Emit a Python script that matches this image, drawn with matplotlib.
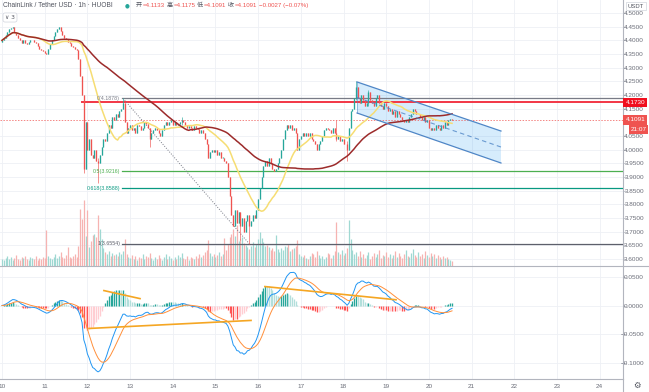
import numpy as np
import pandas as pd
import matplotlib
matplotlib.use('Agg')
import matplotlib.pyplot as plt

plt.rcParams['font.family'] = ['Liberation Sans', 'Noto Sans CJK SC', 'DejaVu Sans']

# hourly closes, LINK/USDT, starting 10th 00:00
closes = [
    4.40, 4.41, 4.42, 4.43, 4.44, 4.445, 4.45, 4.43, 4.42, 4.41,
    4.40, 4.39, 4.40, 4.39, 4.385, 4.395, 4.40, 4.40, 4.395, 4.39,
    4.38, 4.37, 4.365, 4.36, 4.355, 4.35, 4.37, 4.385, 4.40, 4.415,
    4.43, 4.44, 4.45, 4.435, 4.42, 4.41, 4.405, 4.395, 4.39, 4.38,
    4.375, 4.37, 4.365, 4.33, 4.27, 4.20, 3.93, 4.10, 4.00, 4.04,
    3.98, 3.97, 4.00, 3.96, 3.95, 3.98, 4.01, 4.04, 4.03, 4.06,
    4.09, 4.08, 4.12, 4.11, 4.13, 4.12, 4.14, 4.15, 4.17, 4.10,
    4.06, 4.08, 4.09, 4.07, 4.08, 4.06, 4.09, 4.085, 4.07, 4.08,
    4.10, 4.095, 4.08, 4.04, 4.06, 4.07, 4.08, 4.07, 4.06, 4.05,
    4.07, 4.09, 4.10, 4.09, 4.10, 4.11, 4.09, 4.10, 4.09, 4.095,
    4.10, 4.11, 4.10, 4.09, 4.08, 4.085, 4.08, 4.07, 4.085, 4.08,
    4.075, 4.06, 4.07, 4.06, 4.04, 4.02, 3.97, 3.99, 4.00, 3.99,
    4.00, 3.98, 3.99, 3.97, 3.97, 3.96, 3.95, 3.90, 3.83, 3.76,
    3.72, 3.78, 3.73, 3.77, 3.72, 3.75, 3.70, 3.74, 3.76, 3.72,
    3.74, 3.76, 3.75, 3.78, 3.82, 3.86, 3.90, 3.94, 3.96, 3.94,
    3.97, 3.95, 3.93, 3.92, 3.93, 3.95, 3.97, 4.00, 4.04, 4.07,
    4.09, 4.08, 4.09, 4.07, 4.08, 4.06, 4.00, 4.04, 4.05, 4.06,
    4.05, 4.06, 4.05, 4.06, 4.04, 4.03, 4.02, 4.00, 4.02, 4.03,
    4.05, 4.07, 4.08, 4.075, 4.07, 4.06, 4.08, 4.06, 4.04, 4.05,
    4.03, 4.04, 4.02, 4.02, 4.00, 4.08, 4.14, 4.15, 4.19, 4.23,
    4.19, 4.17, 4.20, 4.18, 4.16, 4.17, 4.21, 4.18, 4.17, 4.16,
    4.19, 4.20, 4.17, 4.16, 4.15, 4.17, 4.16, 4.14, 4.15, 4.13,
    4.14, 4.12, 4.14, 4.13, 4.12, 4.11, 4.10, 4.11, 4.10, 4.12,
    4.13, 4.15, 4.14, 4.13, 4.13, 4.12, 4.11, 4.12, 4.10, 4.11,
    4.08, 4.07, 4.08, 4.07, 4.09, 4.08, 4.07, 4.09, 4.08, 4.10,
    4.09, 4.11, 4.1133, 4.1091,
]
first_open = 4.395

volumes = [
    7, 6, 8, 10, 7, 9, 6, 8, 11, 7,
    6, 9, 8, 10, 7, 6, 9, 8, 7, 10,
    6, 8, 7, 9, 8, 36, 10, 8, 7, 9,
    12, 8, 10, 14, 9, 8, 11, 19, 9, 8,
    10, 12, 9, 20, 57, 47, 67, 30, 56, 19,
    25, 31, 32, 29, 51, 37, 27, 18, 14, 12,
    15, 10, 13, 11, 12, 10, 14, 12, 15, 27,
    12, 9, 8, 11, 7, 10, 6, 9, 8, 12,
    7, 10, 9, 13, 8, 6, 9, 7, 11, 8,
    6, 9, 12, 7, 10, 8, 6, 9, 7, 11,
    9, 13, 8, 7, 10, 6, 9, 8, 7, 10,
    8, 12, 9, 11, 14, 16, 26, 13, 10, 12,
    9, 11, 14, 10, 12, 28, 16, 22, 29, 32,
    37, 30, 41, 25, 27, 29, 23, 21, 19, 17,
    20, 24, 19, 22, 27, 34, 28, 24, 20, 21,
    19, 16, 18, 15, 31, 17, 14, 18, 16, 20,
    19, 22, 15, 17, 18, 20, 26, 12, 10, 9,
    11, 8, 7, 10, 13, 12, 9, 15, 11, 8,
    10, 7, 9, 13, 12, 8, 11, 15, 44, 14,
    12, 16, 11, 13, 18, 46, 27, 16, 12, 14,
    10, 15, 9, 12, 8, 11, 14, 7, 10, 13,
    9, 12, 16, 8, 11, 10, 14, 9, 12, 8,
    11, 15, 9, 13, 10, 8, 12, 16, 10, 9,
    13, 17, 11, 9, 14, 10, 12, 8, 15, 11,
    9, 13, 10, 12, 8, 11, 9, 7, 10, 8,
    9, 7, 6, 5,
]

# wicks that stand out on the chart: hour -> (high, low)
wicks = {46: (4.20, 3.915), 54: (3.97, 3.878), 68: (4.1878, 4.15),
         83: (4.08, 4.01), 101: (4.12, 4.09), 134: (3.76, 3.67),
         139: (3.76, 3.6554), 188: (4.11, 4.03), 194: (4.03, 3.96),
         199: (4.25, 4.18), 206: (4.22, 4.16)}

day_labels = ['10', '11', '12', '13', '14', '15', '16', '17', '18', '19',
              '20', '21', '22', '23', '24']
price_ticks = [4.50, 4.45, 4.40, 4.35, 4.30, 4.25, 4.20, 4.15, 4.05,
               4.00, 3.95, 3.90, 3.85, 3.80, 3.75, 3.70, 3.65, 3.60]
macd_ticks = [0.05, 0.0, -0.05, -0.10]

header_title = 'ChainLink / Tether USD \u00b7 1h \u00b7 HUOBI'
ohlc_keys = ['开', '高', '低', '收']
ohlc_vals = [4.1133, 4.1175, 4.1091, 4.1091]
change_text = '\u22120.0027 (\u22120.07%)'

hline_price = 4.1730
fib_levels = [('0', 4.1878, '#787b86'), ('0.5', 3.9216, '#4caf50'),
              ('0.618', 3.8588, '#089981'), ('1', 3.6554, '#5d606b')]
fib_hours = (68, 139)
channel_top = [(199.6, 4.2476), (280.5, 4.068)]
channel_bot = [(199.6, 4.134), (280.5, 3.951)]
macd_lines = [[(57.3, 0.026), (77.6, 0.012)],
              [(48.9, -0.040), (140.0, -0.026)],
              [(147.8, 0.033), (221.5, 0.010)]]

UP, DOWN = '#26a69a', '#ef5350'
GRID = '#eef0f5'
TXT = '#6a6d78'

closes = np.array(closes)
hours = np.arange(len(closes))
opens = np.r_[first_open, closes[:-1]]
highs = np.maximum(opens, closes)
lows = np.minimum(opens, closes)
for h, (hi, lo) in wicks.items():
    highs[h] = max(hi, highs[h])
    lows[h] = min(lo, lows[h])
up = closes >= opens

s = pd.Series(closes)
ma_fast = s.rolling(20, min_periods=1).mean()
ma_slow = s.rolling(60, min_periods=1).mean()
macd = s.ewm(span=12, adjust=False).mean() - s.ewm(span=26, adjust=False).mean()
signal = macd.ewm(span=9, adjust=False).mean()
hist = (macd - signal).values
prev = np.r_[0, hist[:-1]]
hcol = np.where(hist >= 0, np.where(hist > prev, '#26a69a', '#b2dfdb'),
                np.where(hist < prev, '#ff5252', '#ffcdd2'))

W, H = 649, 392
fig = plt.figure(figsize=(W / 100, H / 100), dpi=100, facecolor='white')
ax = fig.add_axes([0, 126 / H, 623 / W, 266 / H])
axm = fig.add_axes([0, 13 / H, 623 / W, 113 / H], sharex=ax)

xlim = (-1.12, 349.1)
day_x = [i * 24 for i in range(len(day_labels))]

for a in (ax, axm):
    a.set_facecolor('white')
    for sp in a.spines.values():
        sp.set_visible(False)
    a.spines['right'].set_visible(True)
    a.spines['right'].set_color('#b2b5be')
    a.spines['right'].set_linewidth(0.8)
    a.yaxis.tick_right()
    # labels right-aligned ~21px right of the axis line, like the screenshot
    a.tick_params(axis='y', length=2, width=0.5, color='#b2b5be', labelsize=4.6,
                  labelcolor=TXT, pad=13.1)
    for d in day_x:
        a.axvline(d, color=GRID, lw=0.6, zorder=0)

# price pane
ax.set_xlim(*xlim)
ax.set_ylim(3.574, 4.5476)
ax.set_yticks(price_ticks)
ax.set_yticklabels([f'{p:.4f}' for p in price_ticks], ha='right')
for p in price_ticks:
    ax.axhline(p, color=GRID, lw=0.6, zorder=0)

# volume on the bottom quarter of the price pane
vmax = max(volumes)
ax.vlines(hours, 0, np.array(volumes) / vmax * 0.25, transform=ax.get_xaxis_transform(),
          colors=np.where(up, '#9fd8d2', '#f6b3b1'), lw=0.9, zorder=1)

# candles
ccol = np.where(up, UP, DOWN)
ax.vlines(hours, lows, highs, colors=ccol, lw=0.45, zorder=4)
body_lo = np.minimum(opens, closes)
body_hi = np.maximum(np.maximum(opens, closes), body_lo + 0.002)
ax.vlines(hours, body_lo, body_hi, colors=ccol, lw=0.95, zorder=4)

ax.plot(hours, ma_fast, color='#f6dd73', lw=1.1, zorder=5)
ax.plot(hours, ma_slow, color='#9c2b2b', lw=1.1, zorder=5)

# horizontal line + current price line
ax.plot([45, xlim[1]], [hline_price, hline_price], color='#f23645', lw=1.4, zorder=3)
ax.axhline(closes[-1], color='#ef5350', lw=0.7, ls=(0, (1.5, 1.5)), alpha=0.7, zorder=3)

# fib retracement
for name, lvl, col in fib_levels:
    ax.plot([67.5, xlim[1]], [lvl, lvl], color=col, lw=0.9, zorder=3)
    ax.text(66.3, lvl, f'{name}({lvl:.4f})', color=col, fontsize=3.8,
            ha='right', va='center', zorder=6)
ax.plot(fib_hours, [fib_levels[0][1], fib_levels[-1][1]], color='#787b86',
        lw=0.7, ls=(0, (1, 1.6)), zorder=3)

# parallel channel
(x0, t0), (x1, t1) = channel_top
(_, b0), (_, b1) = channel_bot
ax.fill([x0, x1, x1, x0], [t0, t1, b1, b0], color='#2196f3', alpha=0.18, lw=0, zorder=2)
ax.plot([x0, x1], [t0, t1], color='#4f86c6', lw=0.9, zorder=6)
ax.plot([x0, x1], [b0, b1], color='#4f86c6', lw=0.9, zorder=6)
ax.plot([x0, x0], [t0, b0], color='#4f86c6', lw=0.6, alpha=0.6, zorder=6)
ax.plot([x0, x1], [(t0 + b0) / 2, (t1 + b1) / 2], color='#4f86c6', lw=0.8,
        ls=(0, (4, 3)), alpha=0.8, zorder=6)

# axis price labels
yt = ax.get_yaxis_transform()
ax.text(1.004, hline_price, f'{hline_price:.4f}', transform=yt, color='white', fontsize=4.6,
        ha='left', va='center', clip_on=False, zorder=10,
        bbox=dict(boxstyle='square,pad=0.35', fc='#f00f1e', ec='none'))
ax.text(1.004, closes[-1], f'{closes[-1]:.4f}', transform=yt, color='white', fontsize=4.6,
        ha='left', va='center', clip_on=False, zorder=10,
        bbox=dict(boxstyle='square,pad=0.35', fc='#ef5350', ec='none'))
ax.text(1.012, 4.074, '21:07', transform=yt, color='white', fontsize=4.6,
        ha='left', va='center', clip_on=False, zorder=10,
        bbox=dict(boxstyle='square,pad=0.3', fc='#ef5350', ec='none'))

# MACD pane
axm.set_ylim(-0.128, 0.0688)
axm.set_yticks(macd_ticks)
axm.set_yticklabels([f'{v:.4f}'.replace('-', '\u2212') for v in macd_ticks], ha='right')
for v in macd_ticks:
    axm.axhline(v, color=GRID, lw=0.6, zorder=0)
axm.vlines(hours, 0, hist, colors=hcol, lw=0.95, zorder=2)
axm.plot(hours, macd, color='#2196f3', lw=0.7, zorder=3)
axm.plot(hours, signal, color='#ff8f3a', lw=0.7, zorder=3)
for seg in macd_lines:
    axm.plot(*zip(*seg), color='#f5a623', lw=1.2, zorder=4)

axm.set_xticks(day_x)
axm.set_xticklabels(day_labels)
axm.tick_params(axis='x', length=0, labelsize=4.6, labelcolor=TXT, pad=3.5)
plt.setp(ax.get_xticklabels(), visible=False)
ax.tick_params(axis='x', length=0)
axm.spines['bottom'].set_visible(True)
axm.spines['bottom'].set_color('#b2b5be')
axm.spines['bottom'].set_linewidth(0.8)

# pane separator and framing
fig.add_artist(plt.Line2D([0, 1], [126 / H, 126 / H], color='#b2b5be', lw=0.8))
fig.add_artist(plt.Line2D([623 / W, 623 / W], [0, 13 / H], color='#b2b5be', lw=0.8))


# header
def fx(px):
    return px / W


def fy(py):
    return 1 - py / H


renderer = fig.canvas.get_renderer()

fig.text(fx(3), fy(5.5), header_title, fontsize=4.8, color='#50535e', va='center', ha='left')
fig.text(fx(127), fy(5.5), '\u25cf', fontsize=4, color='#26a69a', va='center', ha='center',
         family='DejaVu Sans')
key_x = [136, 167, 197, 228]
for kx, k, v in zip(key_x, ohlc_keys, ohlc_vals):
    t = fig.text(fx(kx), fy(5.5), k, fontsize=4.4, color='#50535e', va='center', ha='left')
    kw = t.get_window_extent(renderer).width
    fig.text(fx(kx + kw + 0.5), fy(5.5), f'={v:.4f}', fontsize=4.4, color='#ef5350',
             va='center', ha='left')
fig.text(fx(259), fy(5.5), change_text, fontsize=4.4, color='#ef5350',
         va='center', ha='left')
fig.text(fx(10), fy(17.5), '\u2228 3', fontsize=4.2, color='#50535e', va='center', ha='center',
         family='DejaVu Sans',
         bbox=dict(boxstyle='round,pad=0.35', fc='white', ec='#d1d4dc', lw=0.5))
fig.text(fx(636), fy(6), 'USDT', fontsize=4.2, color='#50535e', va='center', ha='center',
         bbox=dict(boxstyle='square,pad=0.3', fc='white', ec='#d1d4dc', lw=0.5))
fig.text(fx(637), fy(385.5), '\u2699', fontsize=6, color='#50535e', va='center', ha='center',
         family='DejaVu Sans')

fig.savefig('out.png', dpi=100, facecolor='white')
